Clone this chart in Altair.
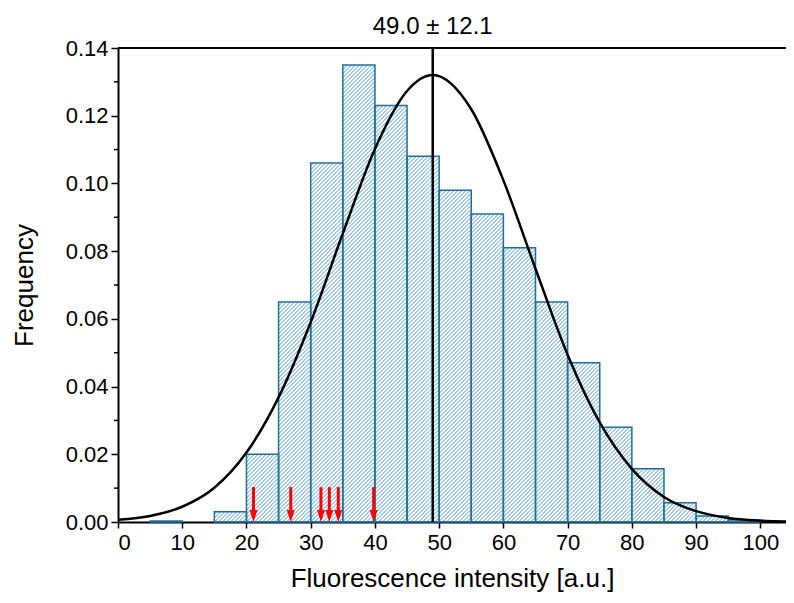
import altair as alt
import pandas as pd

# ---- data ----
bin_starts = [5, 10, 15, 20, 25, 30, 35, 40, 45, 50, 55, 60, 65, 70, 75, 80, 85, 90, 95]
freqs = [0.0003, 0.0, 0.003, 0.020, 0.065, 0.106, 0.135, 0.123, 0.108, 0.098,
         0.091, 0.081, 0.065, 0.047, 0.028, 0.0157, 0.0057, 0.0018, 0.0006]
bin_width = 5

curve_x = [0, 5, 10, 15, 20, 25, 30, 35, 40, 45, 49, 55, 60, 65, 70, 75, 80, 85, 90, 95, 100, 105]
curve_y = [0.0007, 0.0018, 0.0045, 0.0101, 0.0205, 0.0368, 0.0590, 0.0852, 0.1102, 0.1273,
           0.1320, 0.1219, 0.1009, 0.0748, 0.0494, 0.0294, 0.0157, 0.0074, 0.0032, 0.0012,
           0.0004, 0.0001]

arrow_x = [21.1, 26.9, 31.6, 32.9, 34.3, 39.8]
arrow_top = 0.0103

mean_value = 49.0
sd_value = 12.1

x_ticks = list(range(0, 101, 5))
y_ticks = [0.0, 0.02, 0.04, 0.06, 0.08, 0.10, 0.12, 0.14]
y_minor = [0.01, 0.03, 0.05, 0.07, 0.09, 0.11, 0.13]

XMAX = 104
YMAX = 0.14
W = 668
H = 474
FONT = "Liberation Sans"

# ---- tables ----
bars = pd.DataFrame({
    "x0": bin_starts,
    "x1": [b + bin_width for b in bin_starts],
    "f": freqs,
})
bars = bars[bars["f"] > 0].copy()
bars["z"] = 0.0

# diagonal hatch lines derived from the bars (45 degrees on screen)
kx = W / XMAX
ky = H / YMAX
spacing = 4.0
phase = 0.5
rows = []
for _, r in bars.iterrows():
    X0, X1, Hb = r.x0 * kx, r.x1 * kx, r.f * ky
    c = (int((X0 - Hb) // spacing) - 1) * spacing + phase
    while c < X1:
        xs = max(X0, c)
        xe = min(X1, c + Hb)
        if xe > xs + 0.3:
            rows.append({"hx": xs / kx, "hy": (xs - c) / ky,
                         "hx2": xe / kx, "hy2": (xe - c) / ky})
        c += spacing
hatch = pd.DataFrame(rows)

curve = pd.DataFrame({"x": curve_x, "y": curve_y})
arrows = pd.DataFrame({"x": arrow_x, "top": [arrow_top] * len(arrow_x),
                       "bot": [0.0030] * len(arrow_x), "tip": [0.0] * len(arrow_x)})
label_df = pd.DataFrame({"x": [mean_value], "y": [YMAX], "z": [0.0],
                         "t": [f"{mean_value:.1f} \u00b1 {sd_value:.1f}"]})
minor_df = pd.DataFrame({"y": y_minor})

xscale = alt.Scale(domain=[0, XMAX], nice=False, zero=False)
yscale = alt.Scale(domain=[0, YMAX], nice=False)

x_axis = alt.Axis(values=x_ticks, labelExpr="datum.value % 10 == 0 ? datum.label : ''",
                  title="Fluorescence intensity [a.u.]", grid=False, tickSize=6,
                  tickWidth=1.5, domainWidth=2, domainColor="black", tickColor="black",
                  labelFontSize=22, titleFontSize=26, labelColor="black", titleColor="black",
                  labelFont=FONT, titleFont=FONT, titleFontWeight="normal", labelPadding=4,
                  titlePadding=12)
y_axis = alt.Axis(values=y_ticks, format=".2f", title="Frequency", grid=False, tickSize=7,
                  tickWidth=1.5, domainWidth=2, domainColor="black", tickColor="black",
                  labelFontSize=22, titleFontSize=26, labelColor="black", titleColor="black",
                  labelFont=FONT, titleFont=FONT, titleFontWeight="normal", labelPadding=3,
                  titlePadding=28)

hatch_layer = alt.Chart(hatch).mark_rule(stroke="#3f8cc4", strokeWidth=1, opacity=0.9).encode(
    x=alt.X("hx:Q", scale=xscale, axis=x_axis),
    y=alt.Y("hy:Q", scale=yscale, axis=y_axis),
    x2="hx2:Q", y2="hy2:Q",
)

bar_layer = alt.Chart(bars).mark_rect(fillOpacity=0, stroke="#1f6f98", strokeWidth=1.5).encode(
    x=alt.X("x0:Q", scale=xscale),
    x2="x1:Q",
    y=alt.Y("f:Q", scale=yscale),
    y2="z:Q",
)

curve_layer = alt.Chart(curve).mark_line(color="black", strokeWidth=2.5, interpolate="monotone").encode(
    x=alt.X("x:Q", scale=xscale),
    y=alt.Y("y:Q", scale=yscale),
)

vline = alt.Chart(label_df).mark_rule(color="black", strokeWidth=2.5).encode(
    x=alt.X("x:Q", scale=xscale),
    y=alt.Y("z:Q", scale=yscale),
    y2="y:Q",
)

top_line = alt.Chart(label_df).mark_rule(color="black", strokeWidth=2).encode(
    y=alt.Y("y:Q", scale=yscale),
)

title_text = alt.Chart(label_df).mark_text(fontSize=24, font=FONT, color="black", dy=-21,
                                           baseline="middle").encode(
    x=alt.X("x:Q", scale=xscale),
    y=alt.Y("y:Q", scale=yscale),
    text="t:N",
)

minor_ticks = alt.Chart(minor_df).mark_rule(color="black", strokeWidth=1.5).encode(
    y=alt.Y("y:Q", scale=yscale),
    x=alt.value(-4),
    x2=alt.value(0),
)

arrow_shaft = alt.Chart(arrows).mark_rule(color="#ff0000", strokeWidth=3).encode(
    x=alt.X("x:Q", scale=xscale),
    y=alt.Y("top:Q", scale=yscale),
    y2="bot:Q",
)
arrow_head = alt.Chart(arrows).mark_point(filled=True, color="#ff0000", opacity=1,
                                          shape="M-0.8,-2.4L0.8,-2.4L0,0Z", size=100,
                                          strokeWidth=0).encode(
    x=alt.X("x:Q", scale=xscale),
    y=alt.Y("tip:Q", scale=yscale),
)

chart = alt.layer(
    hatch_layer, bar_layer, curve_layer, vline, top_line, minor_ticks,
    arrow_shaft, arrow_head, title_text,
).properties(
    width=W, height=H,
    autosize=alt.AutoSizeParams(type="none"),
    padding={"left": 110, "top": 40, "right": 0, "bottom": 73},
    background="white",
).configure_view(stroke=None)

chart.save("out.html", embed_options={"renderer": "svg", "actions": False})
